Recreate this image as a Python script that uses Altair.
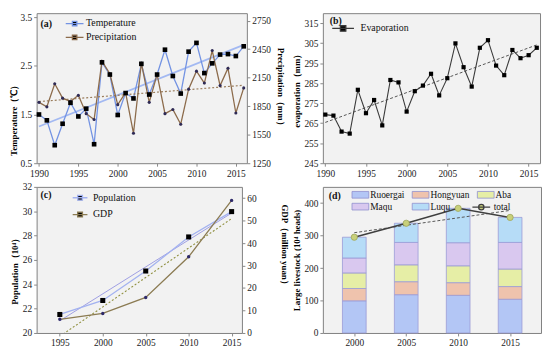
import altair as alt
import pandas as pd

FONT = "Liberation Serif, Times New Roman, serif"
BG = "#f2f2f2"

# ---------------- data ----------------
years_a = list(range(1990, 2017))
temperature = [1.50, 1.38, 0.87, 1.31, 1.74, 1.46, 1.62, 0.89, 2.57, 2.32,
               1.49, 1.94, 1.83, 2.54, 1.91, 2.32, 2.83, 2.29, 1.93, 2.79,
               2.97, 2.35, 2.55, 2.73, 2.74, 2.70, 2.90]
precipitation = [1890, 1843, 2086, 1934, 1900, 1964, 1771, 1710, 2323, 2191,
                 1866, 1992, 1565, 2303, 1890, 2185, 1771, 1815, 1660, 2029,
                 2218, 2093, 2435, 2066, 2249, 1778, 2042]
evaporation = [269.3, 268.8, 260.8, 259.8, 281.7, 270.0, 276.6, 263.9, 286.6, 285.4,
               270.8, 281.0, 283.8, 289.7, 278.9, 287.5, 304.9, 293.0, 283.3, 302.7,
               306.5, 293.8, 289.0, 301.6, 297.5, 299.0, 302.7]
years_c = [1995, 2000, 2005, 2010, 2015]
population = [21.52, 22.67, 25.09, 27.89, 29.97]
gdp = [6.1, 8.7, 15.8, 33.9, 59.0]
years_d = [2000, 2005, 2010, 2015]
counties = ["Ruoergai", "Hongyuan", "Aba", "Maqu", "Luqu"]
ruoergai = [99, 118, 116, 104]
hongyuan = [38, 40, 39, 39]
aba = [48, 52, 52, 54]
maqu = [46, 69, 71, 82]
luqu = [64, 59, 106, 77]

county_colors = ["#b3c6f5", "#efc3ad", "#e6eea6", "#d9c8ef", "#b6dcf7"]

# legend symbol paths
LINE_SQ_A = "M-2,0H2M-0.5,-0.5H0.5V0.5H-0.5Z"
LINE_SQ_C = "M-2,0H2M-0.65,-0.65H0.65V0.65H-0.65Z"
LINE_DOT = "M-2,0H2M0.6,0A0.6,0.6 0 1,1 -0.6,0A0.6,0.6 0 1,1 0.6,0Z"
RECT = "M-2,-0.8H2V0.8H-2Z"

year_ticks_a = [1990, 1995, 2000, 2005, 2010, 2015]


def panel_label(txt, x, y):
    return alt.Chart(pd.DataFrame({"t": [txt]})).mark_text(
        font=FONT, fontSize=10, fontWeight="bold", align="left", baseline="middle", color="#111"
    ).encode(x=alt.value(x), y=alt.value(y), text="t:N")


def line_legend(x, y, path, size, label_offset, row_pad, fill="black"):
    return alt.Legend(
        orient="none", legendX=x, legendY=y, title=None, padding=0,
        symbolType=path, symbolSize=size, symbolFillColor=fill, symbolStrokeWidth=1.3,
        labelFont=FONT, labelFontSize=10, labelColor="#111", labelOffset=label_offset,
        rowPadding=row_pad,
    )


# ---------------- panel (a) ----------------
df_a = pd.DataFrame({"year": years_a, "temperature": temperature, "precipitation": precipitation})
base_a = alt.Chart(df_a)
xa = alt.X("year:Q", scale=alt.Scale(domain=[1989.7, 2016.4], nice=False, zero=False),
           axis=alt.Axis(values=year_ticks_a, format="d", title=None))
t_scale = alt.Scale(domain=[0.5, 3.58], nice=False, zero=False)
ya = alt.Y("temperature:Q", scale=t_scale,
           axis=alt.Axis(orient="left", values=[0.5, 1.5, 2.5, 3.5], format=".1f",
                         title="Temperature（℃）", titleY=106, titlePadding=2))
ya_plain = alt.Y("temperature:Q", scale=t_scale, axis=None)
yp = alt.Y("precipitation:Q", scale=alt.Scale(domain=[1250, 2828], nice=False, zero=False),
           axis=alt.Axis(orient="right", values=[1250, 1550, 1850, 2150, 2450, 2750], format="d",
                         title="Precipitation（mm）", titlePadding=5))
series_a = alt.Scale(domain=["Temperature", "Precipitation"], range=["#7393e3", "#8c6b4b"])
leg_a = line_legend(33, 5, LINE_SQ_A, 81, 6, 3)

temp_lines = alt.layer(
    base_a.transform_regression("year", "temperature").mark_line(color="#a3b9f2", strokeWidth=1.8)
    .encode(x=xa, y=ya),
    base_a.transform_calculate(series="'Temperature'").mark_line(strokeWidth=1.3)
    .encode(x=xa, y=ya, color=alt.Color("series:N", scale=series_a, legend=leg_a)),
)
precip = alt.layer(
    base_a.transform_regression("year", "precipitation")
    .mark_line(color="#9a7d5c", strokeWidth=1.2, strokeDash=[2, 2]).encode(x=xa, y=yp),
    base_a.transform_calculate(series="'Precipitation'").mark_line(strokeWidth=1.3)
    .encode(x=xa, y=yp, color=alt.Color("series:N", scale=series_a, legend=leg_a)),
    base_a.mark_circle(size=10, color="#2e2a55", opacity=1).encode(x=xa, y=yp),
)
temp_pts = base_a.mark_square(size=22, color="black", opacity=1).encode(x=xa, y=ya_plain)
panel_a = alt.layer(temp_lines, precip, temp_pts, panel_label("(a)", 4, 11)) \
    .resolve_scale(y="independent").properties(width=213, height=152)

# ---------------- panel (b) ----------------
df_b = pd.DataFrame({"year": years_a, "evaporation": evaporation})
base_b = alt.Chart(df_b)
xb = alt.X("year:Q", scale=alt.Scale(domain=[1989.7, 2016.4], nice=False, zero=False),
           axis=alt.Axis(values=year_ticks_a, format="d", title=None))
yb = alt.Y("evaporation:Q", scale=alt.Scale(domain=[245, 320], nice=False, zero=False),
           axis=alt.Axis(values=list(range(245, 316, 10)), title="evaporation（mm）", titlePadding=2))
leg_b = line_legend(14, 9, LINE_SQ_A, 121, 11, 3)
panel_b = alt.layer(
    base_b.transform_regression("year", "evaporation")
    .mark_line(color="#555555", strokeDash=[3, 2], strokeWidth=1).encode(x=xb, y=yb),
    base_b.transform_calculate(series="'Evaporation'").mark_line(strokeWidth=1.1)
    .encode(x=xb, y=yb, color=alt.Color("series:N", scale=alt.Scale(domain=["Evaporation"], range=["#3a3a3a"]),
                                        legend=leg_b)),
    base_b.mark_square(size=18, color="black", opacity=1).encode(x=xb, y=yb),
    panel_label("(b)", 7, 8),
).properties(width=220, height=152)

# ---------------- panel (c) ----------------
df_c = pd.DataFrame({"year": years_c, "population": population, "gdp": gdp})
base_c = alt.Chart(df_c)
xc = alt.X("year:Q", scale=alt.Scale(domain=[1992.3, 2016.2], nice=False, zero=False),
           axis=alt.Axis(values=years_c, format="d", title=None))
pop_scale = alt.Scale(domain=[20, 32], nice=False, zero=False)
yc = alt.Y("population:Q", scale=pop_scale,
           axis=alt.Axis(orient="left", values=list(range(20, 33, 2)), title="Population（10⁴）",
                         titleY=83, titlePadding=3))
yc_plain = alt.Y("population:Q", scale=pop_scale, axis=None)
yg = alt.Y("gdp:Q", scale=alt.Scale(domain=[0, 65], nice=False, zero=False),
           axis=alt.Axis(orient="right", values=list(range(0, 61, 10)), title="GDP（million yuan）",
                         titleY=60, titlePadding=24))
series_c = alt.Scale(domain=["Population", "GDP"], range=["#a3b2f0", "#8b7b52"])
leg_c = line_legend(39, 6, LINE_SQ_C, 56, 8, 5)
pop_lines = alt.layer(
    base_c.transform_regression("year", "population").mark_line(color="#9d9de3", strokeWidth=1)
    .encode(x=xc, y=yc),
    base_c.transform_calculate(series="'Population'").mark_line(strokeWidth=1.3)
    .encode(x=xc, y=yc, color=alt.Color("series:N", scale=series_c, legend=leg_c)),
)
gdp_layers = alt.layer(
    base_c.transform_regression("year", "gdp")
    .mark_line(color="#8f8f3e", strokeWidth=1.1, strokeDash=[2, 2], clip=True).encode(x=xc, y=yg),
    base_c.transform_calculate(series="'GDP'").mark_line(strokeWidth=1.3)
    .encode(x=xc, y=yg, color=alt.Color("series:N", scale=series_c, legend=leg_c)),
    base_c.mark_circle(size=12, color="#2e2a6a", opacity=1).encode(x=xc, y=yg),
)
pop_pts = base_c.mark_square(size=26, color="black", opacity=1).encode(x=xc, y=yc_plain)
panel_c = alt.layer(pop_lines, gdp_layers, pop_pts, panel_label("(c)", 4, 8)) \
    .resolve_scale(y="independent").properties(width=208, height=148)

# ---------------- panel (d) ----------------
df_d = pd.DataFrame([
    {"year": y, "county": c, "order": i, "value": v}
    for i, (c, vals) in enumerate(zip(counties, [ruoergai, hongyuan, aba, maqu, luqu]))
    for y, v in zip(years_d, vals)
])
xd = alt.X("year:Q", scale=alt.Scale(domain=[1997.45, 2017.5], nice=False, zero=False),
           axis=alt.Axis(values=years_d, format="d", title=None))
yd_scale = alt.Scale(domain=[0, 450], nice=False, zero=True)
yd_axis = alt.Axis(values=[0, 100, 200, 300, 400], title="Large livestock (10⁴ heads)", titlePadding=2)
leg_d = alt.Legend(
    orient="none", legendX=33, legendY=3, title=None, padding=0, columns=3, direction="horizontal",
    symbolType=RECT, symbolSize=72, symbolStrokeColor="#8f8fcf", symbolStrokeWidth=0.8,
    labelFont=FONT, labelFontSize=9.5, labelColor="#111", labelOffset=5,
    rowPadding=2, columnPadding=5,
)
leg_total = alt.Legend(
    orient="none", legendX=155, legendY=15, title=None, padding=0,
    symbolType=LINE_DOT, symbolSize=81, symbolFillColor="#c8d07a", symbolStrokeWidth=1.3,
    labelFont=FONT, labelFontSize=9.5, labelColor="#111", labelOffset=7,
)
bars = alt.Chart(df_d).mark_bar(size=24, stroke="#9b9bd6", strokeWidth=0.8).encode(
    x=xd,
    y=alt.Y("value:Q", stack="zero", scale=yd_scale, axis=yd_axis),
    fill=alt.Fill("county:N", scale=alt.Scale(domain=counties, range=county_colors), legend=leg_d),
    order=alt.Order("order:Q", sort="ascending"),
)
totals = alt.Chart(df_d).transform_aggregate(total="sum(value)", groupby=["year"])
yt = alt.Y("total:Q", scale=yd_scale, axis=yd_axis)
tot_trend = totals.transform_regression("year", "total") \
    .mark_line(color="#555555", strokeDash=[3, 2], strokeWidth=1).encode(x=xd, y=yt)
tot_line = totals.transform_calculate(series="'total'").mark_line(strokeWidth=1.5).encode(
    x=xd, y=yt,
    stroke=alt.Stroke("series:N", scale=alt.Scale(domain=["total"], range=["#3f3f3f"]), legend=leg_total),
)
tot_pts = totals.mark_circle(size=40, fill="#c8d07a", stroke="#9da55a", strokeWidth=0.8, opacity=1) \
    .encode(x=xd, y=yt)
panel_d = alt.layer(bars, tot_trend, tot_line, tot_pts, panel_label("(d)", 6, 9)) \
    .properties(width=221, height=148)

# ---------------- assemble ----------------
chart = alt.concat(panel_a, panel_b, panel_c, panel_d, columns=2,
                   spacing=alt.RowColnumber(row=24, column=77), bounds="flush", align="each") \
    .resolve_scale(color="independent", fill="independent", stroke="independent") \
    .properties(padding={"left": 0, "top": 1, "right": 0, "bottom": 0}) \
    .configure_view(fill=BG, stroke="#808080", strokeWidth=1) \
    .configure_axis(labelFont=FONT, labelFontSize=9.5, labelColor="#222", labelPadding=2,
                    titleFont=FONT, titleFontSize=9, titleFontWeight="bold", titleColor="#000",
                    tickColor="#888", tickSize=3, domain=False, grid=False)

chart.save("out.html", embed_options={"renderer": "svg", "actions": False})
